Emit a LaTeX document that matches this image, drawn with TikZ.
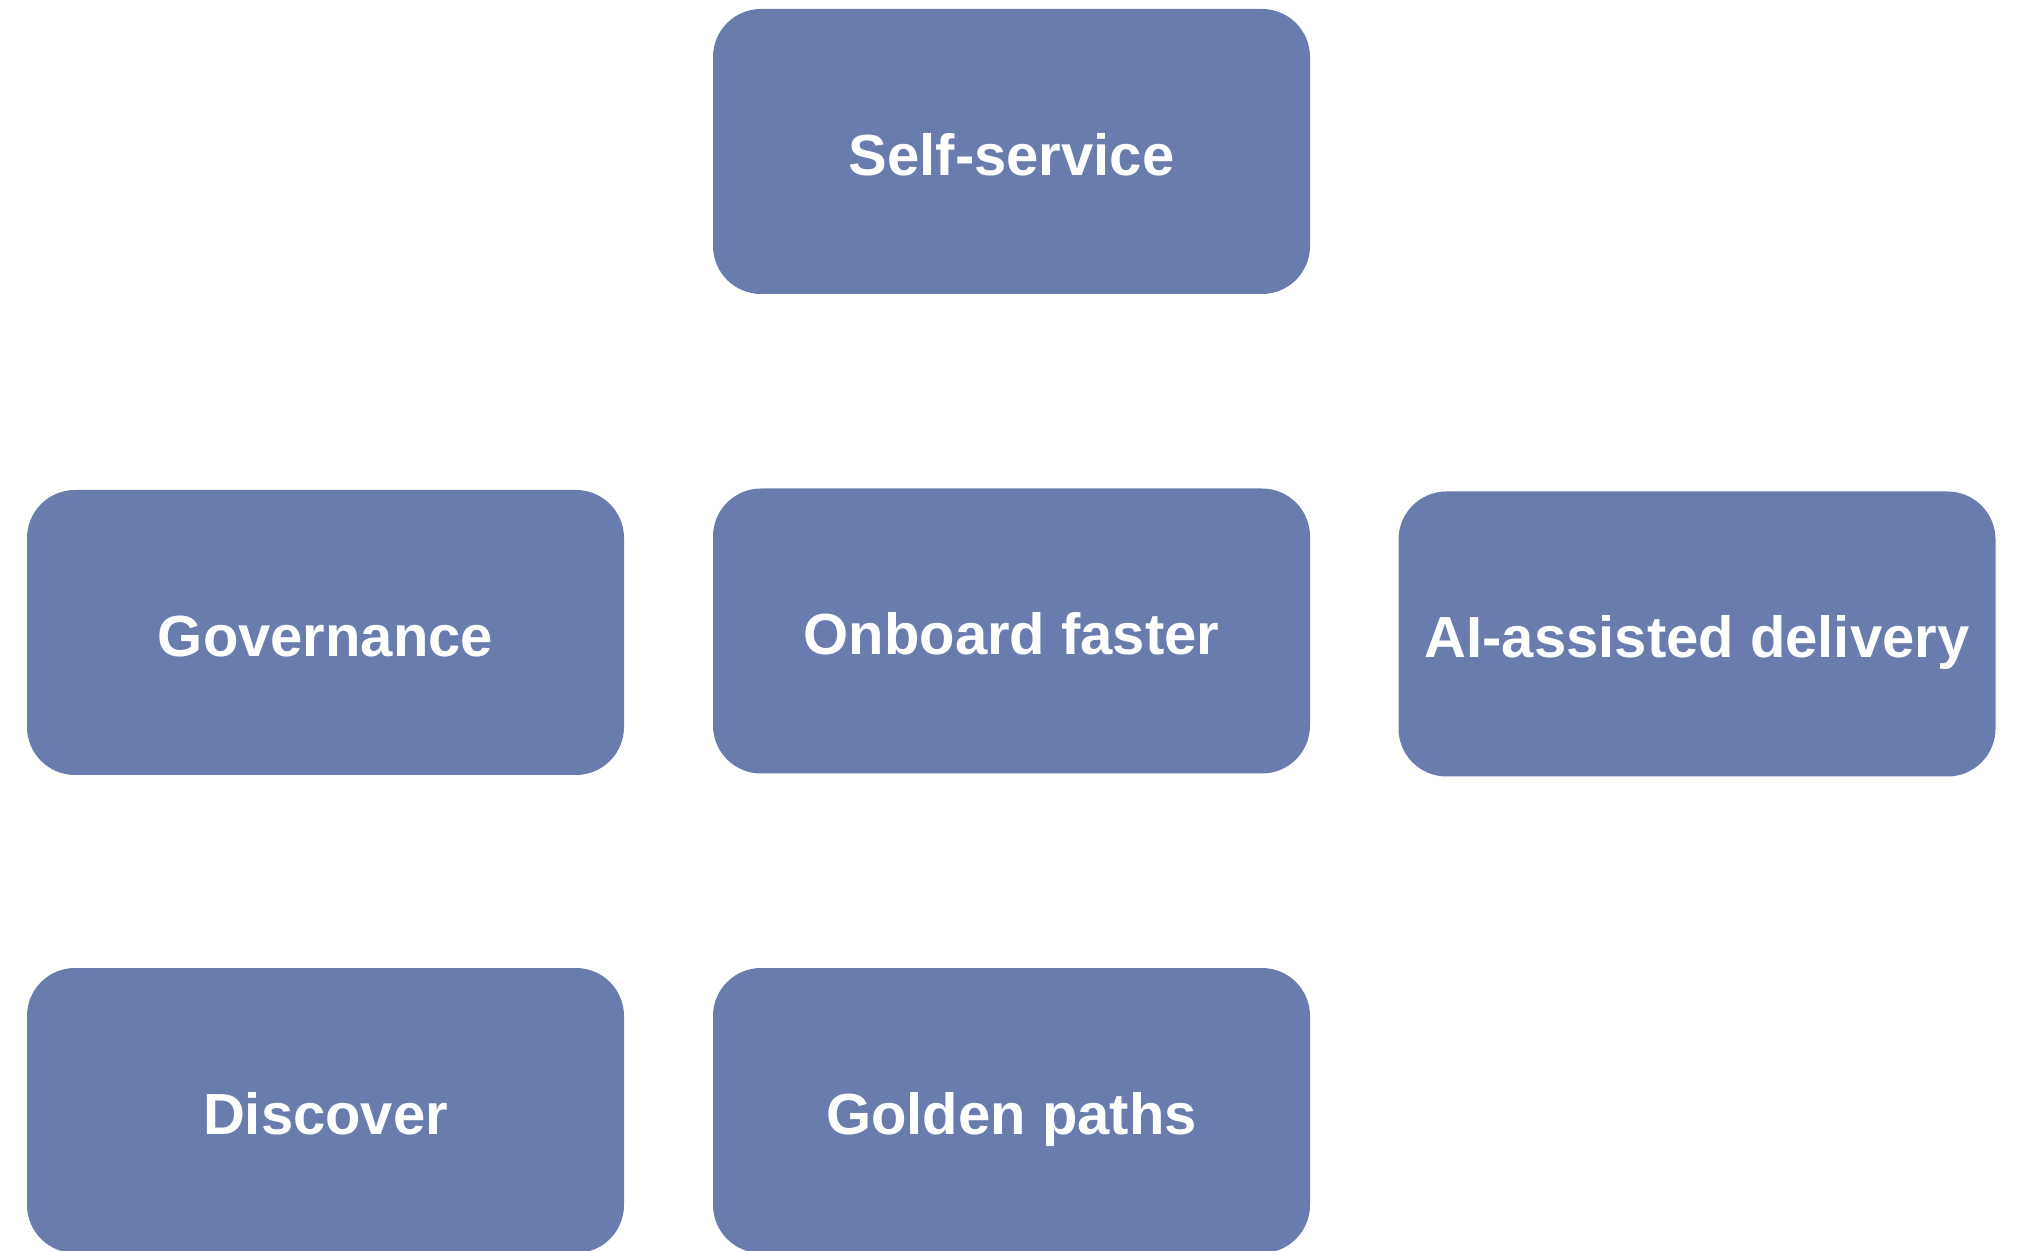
\documentclass[tikz,border=0pt]{standalone}
\usepackage{fontspec}
\setmainfont{Liberation Sans}
\usetikzlibrary{positioning}

\definecolor{boxblue}{RGB}{106,124,174}

\begin{document}
\begin{tikzpicture}[x=1cm, y=1cm,
    goal/.style={fill=boxblue, rounded corners=0.48cm, minimum width=5.97cm,
      minimum height=2.85cm, text=white, inner sep=0pt,
      text height=0.48cm, text depth=0pt,
      font=\fontsize{16.5pt}{20pt}\selectfont\bfseries}]
    \useasboundingbox (0,0) rectangle (20.21,-12.51);
    \clip (0,0) rectangle (20.21,-12.51);
    \node (SELF) [goal] at (10.115,-1.515) {Self-service};
    \node (GOV) [goal] at (3.255,-6.325) {Governance};
    \node (ONB) [goal] at (10.115,-6.31) {Onboard faster};
    \node (AI) [goal] at (16.97,-6.34) {AI-assisted delivery};
    \node (DISC) [goal] at (3.255,-11.105) {Discover};
    \node (GOLD) [goal] at (10.115,-11.105) {Golden paths};
  \end{tikzpicture}
\end{document}
